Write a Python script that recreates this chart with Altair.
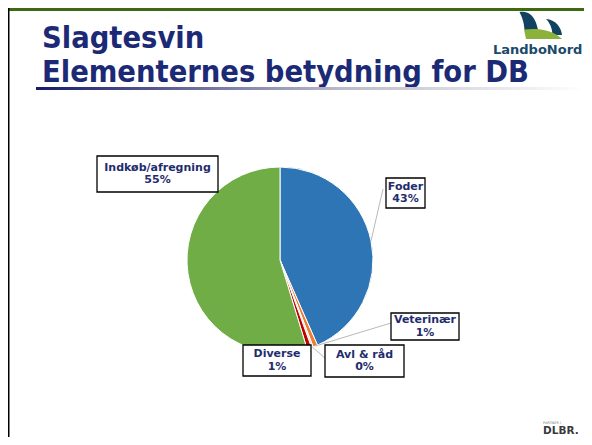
import math
import altair as alt
import pandas as pd

# ---------------- data ----------------
categories = ["Foder", "Veterinær", "Avl & råd", "Diverse", "Indkøb/afregning"]
shares = [43.4, 0.8, 0.3, 0.8, 54.7]
slice_colors = ["#2e75b6", "#ed7d31", "#d9d9d9", "#c00000", "#70ad47"]
title_lines = ["Slagtesvin", "Elementernes betydning for DB"]

# ---------------- layout (page pixel coords) ----------------
OFF = 8
W, H = 576, 429
CX, CY, R = 280 - OFF, 260 - OFF, 93
NAVY = "#1c2a76"
LABEL_NAVY = "#1f2d6e"
LINE_H = 12.5

LAYOUT = {
    "Foder": dict(box=(386, 178, 425, 208), attach=(383, 189)),
    "Veterinær": dict(box=(391, 313, 459, 340), attach=(391, 323)),
    "Avl & råd": dict(box=(325, 345, 404, 377), attach=(325, 358)),
    "Diverse": dict(box=(243, 345, 311, 376), attach=None),
    "Indkøb/afregning": dict(box=(97, 156, 218, 192), attach=None),
}

pie_df = pd.DataFrame({
    "category": categories,
    "share": shares,
    "order": list(range(len(categories))),
})

label_rows, leader_rows = [], []
cum = 0.0
for cat, v in zip(categories, shares):
    mid = (cum + v / 2) / 100 * 2 * math.pi
    cum += v
    lay = LAYOUT[cat]
    x0, y0, x1, y1 = [c - OFF for c in lay["box"]]
    label_rows.append(dict(category=cat, x0=x0, y0=y0, x1=x1, y1=y1,
                           tx=(x0 + x1) / 2, ty=(y0 + y1) / 2 - LINE_H / 2,
                           label=f"{cat}\n{round(v)}%"))
    if lay["attach"] is not None:
        leader_rows.append(dict(
            xa=CX + R * math.sin(mid), ya=CY - R * math.cos(mid),
            xb=lay["attach"][0] - OFF, yb=lay["attach"][1] - OFF))
label_df = pd.DataFrame(label_rows)
leader_df = pd.DataFrame(leader_rows)
one = pd.DataFrame({"k": [0]})

# ---------------- slide decoration ----------------
top_bar = alt.Chart(one).mark_rect(color="#3f6a12").encode(
    x=alt.value(0), x2=alt.value(W), y=alt.value(0), y2=alt.value(3))
left_bar = alt.Chart(one).mark_rect(color="#000000").encode(
    x=alt.value(0), x2=alt.value(1.5), y=alt.value(0), y2=alt.value(H))

title_df = pd.DataFrame({"t": title_lines, "ty": [48 - OFF, 82 - OFF]})
title = alt.Chart(title_df).mark_text(
    font="DejaVu Sans Condensed", fontWeight="bold", fontSize=30.5, color=NAVY,
    align="left", baseline="alphabetic").encode(
    x=alt.value(42 - OFF), y=alt.Y("ty:Q", scale=None), text="t:N")

grad = alt.Chart(one).mark_rect(
    color=alt.Gradient(gradient="linear",
                       stops=[alt.GradientStop(color="#161a6a", offset=0),
                              alt.GradientStop(color="#b8b8c8", offset=0.55),
                              alt.GradientStop(color="#ffffff", offset=1)],
                       x1=0, x2=1, y1=0, y2=0)).encode(
    x=alt.value(36 - OFF), x2=alt.value(W), y=alt.value(87 - OFF), y2=alt.value(90 - OFF))

# LandboNord logo
logo_df = pd.DataFrame({
    "x": [529 - OFF, 554 - OFF, 542 - OFF],
    "y": [21 - OFF, 27 - OFF, 34 - OFF],
    "shape": [
        "M -0.95 -0.9 C -0.3 -1 0.6 -0.8 0.9 0.9 L -0.45 0.9 C -0.5 0.1 -0.7 -0.4 -0.95 -0.9 Z",
        "M -1 -1 C 0.2 -0.9 0.9 0 1 1 L -0.2 1 C -0.2 0.2 -0.5 -0.5 -1 -1 Z",
        "M -0.9 -0.22 C -0.3 -0.3 0.5 -0.25 1 0.25 L -0.8 0.25 Z",
    ],
    "size": [400, 256, 1600],
    "col": ["#124262", "#124262", "#8cb23c"],
})
logo_shapes = []
for _, r in logo_df.iterrows():
    logo_shapes.append(alt.Chart(one).mark_point(
        shape=r["shape"], size=int(r["size"]), filled=True, opacity=1,
        color=r["col"], strokeWidth=0).encode(
        x=alt.value(float(r["x"])), y=alt.value(float(r["y"]))))
logo_text = alt.Chart(one).mark_text(
    text="LandboNord", font="DejaVu Sans", fontWeight="bold", fontSize=13,
    color="#1a4a6a", align="left", baseline="alphabetic").encode(
    x=alt.value(493 - OFF), y=alt.value(54 - OFF))

# DLBR logo
dlbr_small = alt.Chart(one).mark_text(
    text="PARTNER I", font="DejaVu Sans", fontSize=3.5, color="#777777",
    align="left", baseline="alphabetic").encode(
    x=alt.value(543 - OFF), y=alt.value(424 - OFF))
dlbr = alt.Chart(one).mark_text(
    text="DLBR.", font="DejaVu Sans", fontWeight="bold", fontSize=10.5,
    color="#3a3a3a", align="left", baseline="alphabetic").encode(
    x=alt.value(543 - OFF), y=alt.value(434 - OFF))

# ---------------- pie ----------------
pie = alt.Chart(pie_df).mark_arc(radius=R, stroke="white", strokeWidth=1).encode(
    theta=alt.Theta("share:Q", stack=True),
    color=alt.Color("category:N", scale=alt.Scale(domain=categories, range=slice_colors),
                    legend=None),
    order=alt.Order("order:Q"),
    x=alt.value(CX), y=alt.value(CY))

leaders = alt.Chart(leader_df).mark_rule(color="#a6a6a6", strokeWidth=0.8).encode(
    x=alt.X("xa:Q", scale=None), y=alt.Y("ya:Q", scale=None),
    x2="xb:Q", y2="yb:Q")

boxes = alt.Chart(label_df).mark_rect(fill="white", stroke="#000000", strokeWidth=1.3).encode(
    x=alt.X("x0:Q", scale=None), x2="x1:Q",
    y=alt.Y("y0:Q", scale=None), y2="y1:Q")

texts = alt.Chart(label_df).mark_text(
    font="DejaVu Sans", fontWeight="bold", fontSize=11, color=LABEL_NAVY,
    lineBreak="\n", lineHeight=LINE_H, align="center", baseline="middle").encode(
    x=alt.X("tx:Q", scale=None), y=alt.Y("ty:Q", scale=None), text="label:N")

chart = alt.layer(
    top_bar, left_bar, title, grad, *logo_shapes, logo_text, dlbr_small, dlbr,
    pie, leaders, boxes, texts
).properties(
    width=W, height=H, padding=0,
    autosize=alt.AutoSizeParams(type="fit", contains="padding"),
).configure_view(stroke=None)

chart.save("out.html", embed_options={"renderer": "svg", "actions": False})
